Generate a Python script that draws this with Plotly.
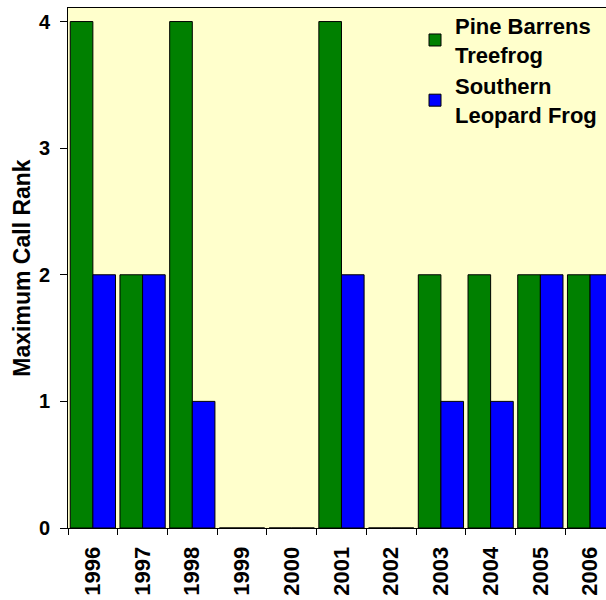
import plotly.graph_objects as go

years = ["1996", "1997", "1998", "1999", "2000", "2001", "2002", "2003", "2004", "2005", "2006"]
pine_barrens = [4, 2, 4, 0, 0, 4, 0, 2, 2, 2, 2]
southern_leopard = [2, 2, 1, 0, 0, 2, 0, 1, 1, 2, 2]

font_family = "Arial, Liberation Sans, sans-serif"

fig = go.Figure()
fig.add_trace(
    go.Bar(
        x=years,
        y=pine_barrens,
        name="Pine Barrens<br>Treefrog",
        marker=dict(color="#008000", line=dict(color="black", width=1)),
    )
)
fig.add_trace(
    go.Bar(
        x=years,
        y=southern_leopard,
        name="Southern<br>Leopard Frog",
        marker=dict(color="#0000FF", line=dict(color="black", width=1)),
    )
)

# 右端は画面外に切れている
fig.update_xaxes(
    type="category",
    range=[-0.5, 10.32],
    automargin=False,
    showline=True,
    linecolor="black",
    linewidth=1,
    mirror=True,
    ticks="outside",
    tickson="boundaries",
    ticklen=6,
    tickcolor="black",
    tickangle=-90,
    ticklabelstandoff=9,
    tickfont=dict(family=font_family, size=22, color="black", weight="bold"),
    showgrid=False,
)
fig.update_yaxes(
    range=[0, 4.107],
    tickvals=[0, 1, 2, 3, 4],
    automargin=False,
    showline=True,
    linecolor="black",
    linewidth=1,
    mirror=True,
    ticks="outside",
    ticklen=7,
    tickcolor="black",
    ticklabelstandoff=6,
    tickfont=dict(family=font_family, size=20, color="black", weight="bold"),
    showgrid=False,
    zeroline=False,
    title=dict(
        text="Maximum Call Rank",
        font=dict(family=font_family, size=23, color="black", weight="bold"),
        standoff=1,
    ),
)
fig.update_layout(
    width=606,
    height=600,
    barmode="group",
    bargap=0.09,
    bargroupgap=0,
    plot_bgcolor="#FFFFCC",
    paper_bgcolor="white",
    margin=dict(l=68, r=0, t=8, b=72),
    legend=dict(
        x=0.645,
        y=1.006,
        xanchor="left",
        yanchor="top",
        bgcolor="rgba(0,0,0,0)",
        font=dict(family=font_family, size=22, color="black", weight="bold"),
        tracegroupgap=0,
    ),
)

# ページの余白を消す
fig.write_html(
    "out.html",
    config={"displayModeBar": False},
    post_script="document.body.style.margin='0';",
)
